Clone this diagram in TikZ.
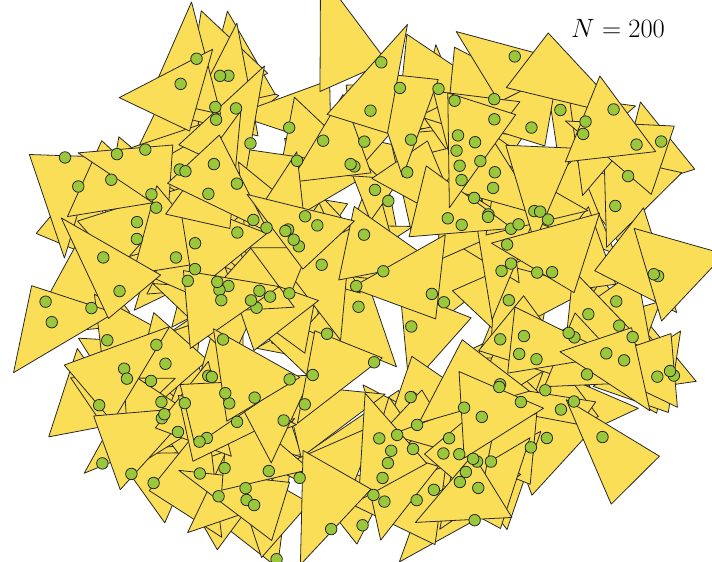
\RequirePackage{fix-cm}
\documentclass[tikz,border=0pt]{standalone}
\definecolor{triY}{RGB}{250,222,88}
\definecolor{dotG}{RGB}{154,200,58}
\definecolor{edgeC}{RGB}{40,40,40}
\tikzset{
  tri/.style={fill=triY,draw=edgeC,line width=0.8pt,line join=round},
  dot/.style={circle,fill=dotG,draw=edgeC,line width=0.8pt,minimum size=11.5pt,inner sep=0pt}
}
\newcommand{\trirand}{%
  \pgfmathsetmacro\ru{rnd^0.45}%
  \pgfmathsetmacro\ra{360*rnd}%
  \pgfmathsetmacro\rot{360*rnd}%
  \pgfmathsetmacro\fl{rnd<0.5 ? 1 : -1}%
  \pgfmathsetmacro\area{3100+900*rnd}%
  \pgfmathsetmacro\al{35+45*rnd}%
  \pgfmathsetmacro\blo{max(30,95-\al)}%
  \pgfmathsetmacro\bhi{min(85,150-\al)}%
  \pgfmathsetmacro\be{\blo+(\bhi-\blo)*rnd}%
  \pgfmathsetmacro\ga{180-\al-\be}%
  \pgfmathsetmacro\kk{sqrt(2*\area)/sqrt(sin(\al)*sin(\be)*sin(\ga))}%
  \pgfmathsetmacro\sc{\kk*sin(\ga)}%
  \pgfmathsetmacro\sb{\kk*sin(\be)}%
  \pgfmathsetmacro\Cx{\sb*cos(\al)}%
  \pgfmathsetmacro\Cy{\sb*sin(\al)}%
  \pgfmathsetmacro\Gx{(\sc+\Cx)/3}%
  \pgfmathsetmacro\Gy{\Cy/3}%
  \pgfmathsetmacro\bu{rnd}%
  \pgfmathsetmacro\bv{rnd}%
  \pgfmathsetmacro\cxx{(cos(\ra)<0 ? -1 : 1)*(abs(cos(\ra))+0.0001)^0.8}%
  \pgfmathsetmacro\cyy{(sin(\ra)<0 ? -1 : 1)*(abs(sin(\ra))+0.0001)^0.8}%
  \pgfmathsetmacro\cx{362+318*\ru*\cxx}%
  \pgfmathsetmacro\cy{283+242*\ru*\cyy}%
}
\begin{document}
\begin{tikzpicture}[x=1pt,y=-1pt]
\useasboundingbox (0,0) rectangle (712,562);
\clip (0,0) rectangle (712,562);
\pgfmathsetseed{11}
\foreach \i in {1,...,200}{
  \trirand
  \begin{scope}[shift={(\cx,\cy)},rotate=\rot,xscale=\fl]
    \draw[tri] (-\Gx,-\Gy) -- (\sc-\Gx,-\Gy) -- (\Cx-\Gx,\Cy-\Gy) -- cycle;
  \end{scope}
}
\pgfmathsetseed{11}
\foreach \i in {1,...,200}{
  \trirand
  \pgfmathsetmacro\pu{\bu+\bv>1 ? 1-\bu : \bu}
  \pgfmathsetmacro\pv{\bu+\bv>1 ? 1-\bv : \bv}
  \pgfmathsetmacro\px{-\Gx+\sc*\pu+\Cx*\pv}
  \pgfmathsetmacro\py{-\Gy+\Cy*\pv}
  \begin{scope}[shift={(\cx,\cy)},rotate=\rot,xscale=\fl]
    \coordinate (p\i) at (\px,\py);
  \end{scope}
  \node[dot] (d\i) at (p\i) {};
}
\node (lbl) at (618,28) {\fontsize{26.5}{32}\selectfont $N = 200$};
\end{tikzpicture}
\end{document}
